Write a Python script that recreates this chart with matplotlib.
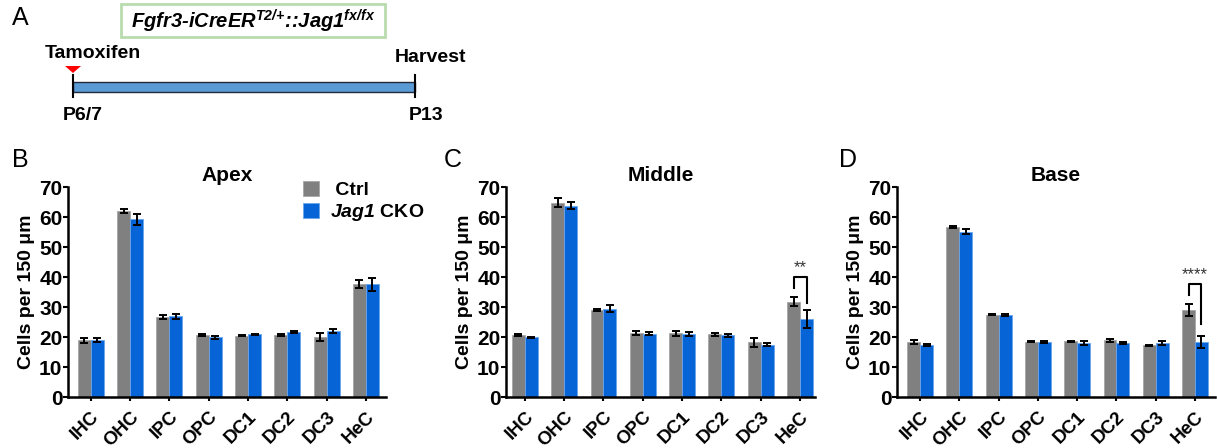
import matplotlib
matplotlib.use("Agg")
import matplotlib.pyplot as plt
from matplotlib.patches import Patch, Rectangle, Polygon
import numpy as np

plt.rcParams['font.family'] = ['Liberation Sans', 'DejaVu Sans']
plt.rcParams['mathtext.fontset'] = 'custom'
plt.rcParams['mathtext.it'] = 'Liberation Sans:italic:bold'
plt.rcParams['mathtext.rm'] = 'Liberation Sans:italic:bold'
plt.rcParams['mathtext.bf'] = 'Liberation Sans:italic:bold'

# ---------------- data ----------------
categories = ["IHC", "OHC", "IPC", "OPC", "DC1", "DC2", "DC3", "HeC"]

apex_ctrl = [18.9, 62.0, 26.7, 20.6, 20.5, 20.6, 20.0, 37.8]
apex_ctrl_err = [0.8, 0.7, 0.7, 0.4, 0.3, 0.3, 1.2, 1.3]
apex_cko = [19.0, 59.2, 26.9, 19.9, 20.9, 21.7, 22.0, 37.6]
apex_cko_err = [0.6, 1.8, 0.8, 0.5, 0.2, 0.4, 0.7, 2.2]

middle_ctrl = [20.6, 64.7, 29.1, 21.4, 21.3, 20.9, 18.3, 31.8]
middle_ctrl_err = [0.3, 1.5, 0.3, 0.6, 0.8, 0.6, 1.5, 1.6]
middle_cko = [19.9, 63.8, 29.5, 21.1, 21.0, 20.6, 17.4, 25.9]
middle_cko_err = [0.2, 1.2, 1.2, 0.5, 0.8, 0.5, 0.5, 3.0]

base_ctrl = [18.3, 56.8, 27.5, 18.4, 18.6, 18.9, 17.2, 29.0]
base_ctrl_err = [0.6, 0.3, 0.2, 0.2, 0.2, 0.5, 0.3, 2.0]
base_cko = [17.3, 55.1, 27.3, 18.4, 18.1, 18.1, 18.1, 18.3]
base_cko_err = [0.3, 0.8, 0.3, 0.3, 0.6, 0.4, 0.7, 2.0]

series_names = ["Ctrl", "Jag1 CKO"]
panel_titles = ["Apex", "Middle", "Base"]
panel_letters = ["B", "C", "D"]
yticks = [0, 10, 20, 30, 40, 50, 60, 70]

# significance annotations
sig_panel = [1, 2]
sig_cat = [7, 7]
sig_top = [40.0, 37.6]
sig_left = [36.5, 33.9]
sig_right = [31.5, 24.4]
sig_label = ["**", "****"]

# timeline (panel A)
timeline_start = "P6/7"
timeline_end = "P13"
event_start = "Tamoxifen"
event_end = "Harvest"

# ---------------- figure ----------------
W, H = 1217, 448
fig = plt.figure(figsize=(W / 100, H / 100), dpi=100)

def px_axes(x0, x1, y_top, y_bot):
    return fig.add_axes([x0 / W, 1 - y_bot / H, (x1 - x0) / W, (y_bot - y_top) / H])

GREY = "#808080"
BLUE = "#0764D6"
panel_px = [(68, 386), (506, 815), (897, 1215)]
panel_xlim = [(-0.58, 7.51), (-0.48, 7.38), (-0.59, 7.51)]
ctrl_all = [apex_ctrl, middle_ctrl, base_ctrl]
ctrl_err_all = [apex_ctrl_err, middle_ctrl_err, base_ctrl_err]
cko_all = [apex_cko, middle_cko, base_cko]
cko_err_all = [apex_cko_err, middle_cko_err, base_cko_err]

bw = 0.33
x = np.arange(len(categories))
axes = []
for i in range(3):
    ax = px_axes(panel_px[i][0], panel_px[i][1], 187, 397)
    axes.append(ax)
    ax.bar(x - bw / 2, ctrl_all[i], bw, color=GREY, edgecolor="#a6a6a6", linewidth=0.6,
           yerr=ctrl_err_all[i], capsize=3.2,
           error_kw=dict(ecolor="black", elinewidth=1.4, capthick=1.4), zorder=2)
    ax.bar(x + bw / 2, cko_all[i], bw, color=BLUE, edgecolor="#6aa6ec", linewidth=0.6,
           yerr=cko_err_all[i], capsize=3.2,
           error_kw=dict(ecolor="black", elinewidth=1.4, capthick=1.4), zorder=2)
    ax.set_xlim(*panel_xlim[i])
    ax.set_ylim(0, 70)
    ax.set_yticks(yticks)
    ax.set_yticklabels([str(v) for v in yticks], fontsize=15, fontweight="bold")
    ax.set_xticks(x)
    ax.set_xticklabels(categories, fontsize=13.5, fontweight="bold", rotation=45,
                       ha="right", va="top", rotation_mode="anchor")
    ax.tick_params(axis="y", length=3.5, width=1.5, pad=0.5)
    ax.tick_params(axis="x", length=3, width=1.5, pad=5)
    for s in ["top", "right"]:
        ax.spines[s].set_visible(False)
    for s in ["left", "bottom"]:
        ax.spines[s].set_linewidth(1.8)
    ax.set_ylabel("Cells per 150 μm", fontsize=14, fontweight="bold", labelpad=3)
    ax.set_title(panel_titles[i], fontsize=15, fontweight="bold", pad=4)

for k in range(len(sig_panel)):
    ax = axes[sig_panel[k]]
    c = sig_cat[k]
    xl, xr = c - bw / 2, c + bw / 2
    ax.plot([xl, xl, xr, xr], [sig_left[k], sig_top[k], sig_top[k], sig_right[k]],
            color="black", lw=1.5, clip_on=False, zorder=3)
    ax.text(c, sig_top[k] + 0.6, sig_label[k], ha="center", va="bottom",
            fontsize=12, color="#333333")

handles = [Patch(facecolor=GREY, edgecolor="#a6a6a6", linewidth=0.6),
           Patch(facecolor=BLUE, edgecolor="#6aa6ec", linewidth=0.6)]
labels = [" " + series_names[0], r"$\mathit{Jag1}$ CKO"]
leg = axes[0].legend(handles, labels, loc="upper left", bbox_to_anchor=(303 / W, 1 - 181 / H),
                     bbox_transform=fig.transFigure, frameon=False, fontsize=14,
                     handlelength=0.8, handleheight=0.8, labelspacing=0.15,
                     handletextpad=0.6, borderaxespad=0, borderpad=0)
for t in leg.get_texts():
    t.set_fontweight("bold")

# ---------------- overlay for panel A and letters ----------------
ov = fig.add_axes([0, 0, 1, 1], zorder=-1)
ov.set_xlim(0, W)
ov.set_ylim(H, 0)
ov.axis("off")

ov.text(20, 18, "A", fontsize=18, ha="center", va="center")
for i, L in enumerate(panel_letters):
    ov.text([20, 453, 848][i], 160, L, fontsize=18, ha="center", va="center")

ov.add_patch(Rectangle((121, 4), 264, 33, facecolor="white", edgecolor="#b9dcae", lw=2))
ov.text(253, 21, r"Fgfr3-iCreER$^{T2/{+}}$::Jag1$^{fx/fx}$", fontsize=14.5,
        fontweight="bold", fontstyle="italic", ha="center", va="center")

ov.add_patch(Rectangle((73, 82), 342, 10, facecolor="#5b9bd5", edgecolor="#1f2a3a", lw=1))
ov.plot([73, 73], [75, 97], color="black", lw=1.5)
ov.plot([415, 415], [75, 97], color="black", lw=1.5)
ov.add_patch(Polygon([[65, 66], [81, 66], [73, 73]], closed=True, facecolor="#ff0000",
                     edgecolor="none"))
ov.text(45, 53, event_start, fontsize=14, fontweight="bold", ha="left", va="center")
ov.text(430, 58, event_end, fontsize=14, fontweight="bold", ha="center", va="center")
ov.text(63, 115, timeline_start, fontsize=14, fontweight="bold", ha="left", va="center")
ov.text(426, 115, timeline_end, fontsize=14, fontweight="bold", ha="center", va="center")

fig.savefig("out.png", dpi=100)
